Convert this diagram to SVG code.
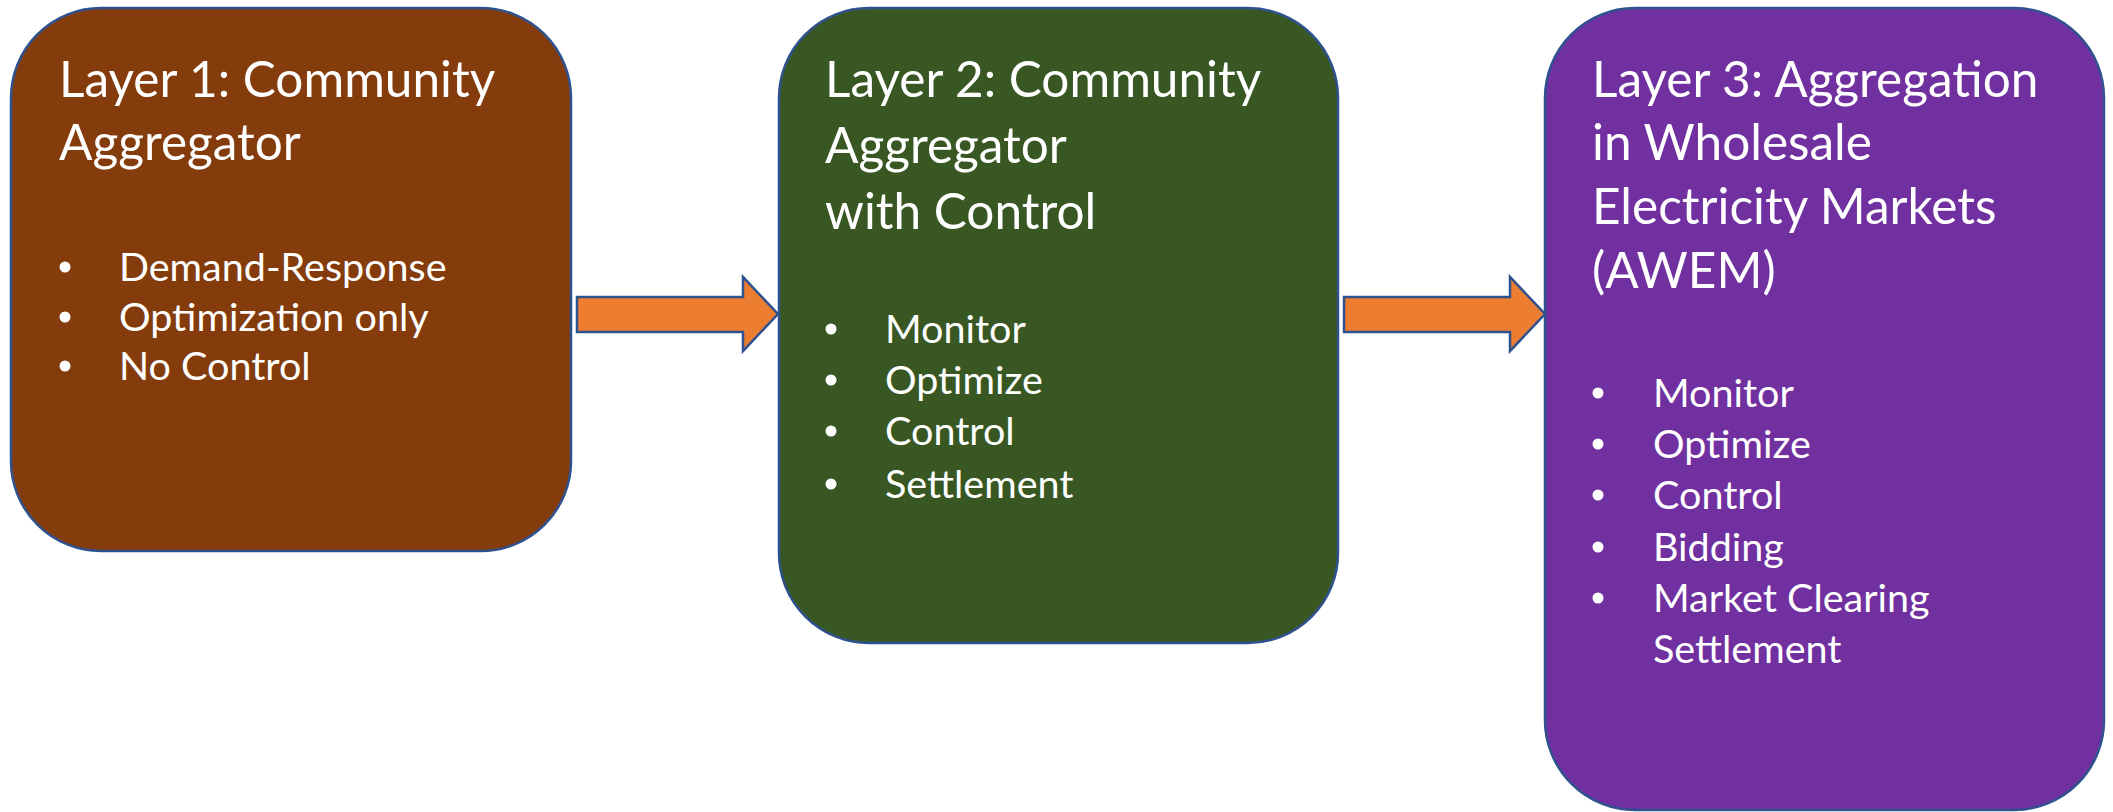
<svg xmlns="http://www.w3.org/2000/svg" width="2113" height="812" viewBox="0 0 2113 812">
  <style>
    .box { stroke: #2F528F; stroke-width: 2.5; }
    .title { font-family: Lato, "Open Sans", "Liberation Sans", sans-serif; font-size: 49.5px; fill: #FFFFFF; }
    .item { font-family: Lato, "Open Sans", "Liberation Sans", sans-serif; font-size: 39.5px; fill: #FFFFFF; }
    .dot { fill: #FFFFFF; }
    .arrow { fill: #ED7D31; stroke: #2F528F; stroke-width: 2.5; stroke-linejoin: miter; }
  </style>

  <rect width="2113" height="812" fill="#FFFFFF"/>

  <!-- Layer 1 -->
  <g id="layer1">
    <rect class="box" x="11" y="8" width="560" height="543" rx="90" ry="90" fill="#843C0C"/>
    <text class="title" x="59" y="97">Layer 1: Community</text>
    <text class="title" x="59" y="160">Aggregator</text>
    <circle class="dot" cx="65" cy="267" r="5.5"/>
    <circle class="dot" cx="65" cy="317" r="5.5"/>
    <circle class="dot" cx="65" cy="366" r="5.5"/>
    <text class="item" x="119" y="281">Demand-Response</text>
    <text class="item" x="119" y="331">Optimization only</text>
    <text class="item" x="119" y="380">No Control</text>
  </g>

  <!-- Layer 2 -->
  <g id="layer2">
    <rect class="box" x="779" y="8" width="559" height="635" rx="90" ry="90" fill="#385723"/>
    <text class="title" x="825" y="97">Layer 2: Community</text>
    <text class="title" x="825" y="163">Aggregator</text>
    <text class="title" x="825" y="229">with Control</text>
    <circle class="dot" cx="831" cy="329" r="5.5"/>
    <circle class="dot" cx="831" cy="380" r="5.5"/>
    <circle class="dot" cx="831" cy="431" r="5.5"/>
    <circle class="dot" cx="831" cy="484" r="5.5"/>
    <text class="item" x="885" y="343">Monitor</text>
    <text class="item" x="885" y="394">Optimize</text>
    <text class="item" x="885" y="445">Control</text>
    <text class="item" x="885" y="498">Settlement</text>
  </g>

  <!-- Layer 3 -->
  <g id="layer3">
    <rect class="box" x="1545" y="8" width="559" height="802" rx="90" ry="90" fill="#7030A0"/>
    <text class="title" x="1592" y="97">Layer 3: Aggregation</text>
    <text class="title" x="1592" y="160">in Wholesale</text>
    <text class="title" x="1592" y="224">Electricity Markets</text>
    <text class="title" x="1592" y="288">(AWEM)</text>
    <circle class="dot" cx="1598" cy="393" r="5.5"/>
    <circle class="dot" cx="1598" cy="444" r="5.5"/>
    <circle class="dot" cx="1598" cy="495" r="5.5"/>
    <circle class="dot" cx="1598" cy="547" r="5.5"/>
    <circle class="dot" cx="1598" cy="598" r="5.5"/>
    <text class="item" x="1653" y="407">Monitor</text>
    <text class="item" x="1653" y="458">Optimize</text>
    <text class="item" x="1653" y="509">Control</text>
    <text class="item" x="1653" y="561">Bidding</text>
    <text class="item" x="1653" y="612">Market Clearing</text>
    <text class="item" x="1653" y="663">Settlement</text>
  </g>

  <!-- Connectors: block arrows between layers -->
  <g id="connectors">
    <path class="arrow" d="M577,297 H743 V277 L778,314 L743,351 V332 H577 Z"/>
    <path class="arrow" d="M1344,297 H1510 V277 L1545,314 L1510,351 V332 H1344 Z"/>
  </g>
</svg>
